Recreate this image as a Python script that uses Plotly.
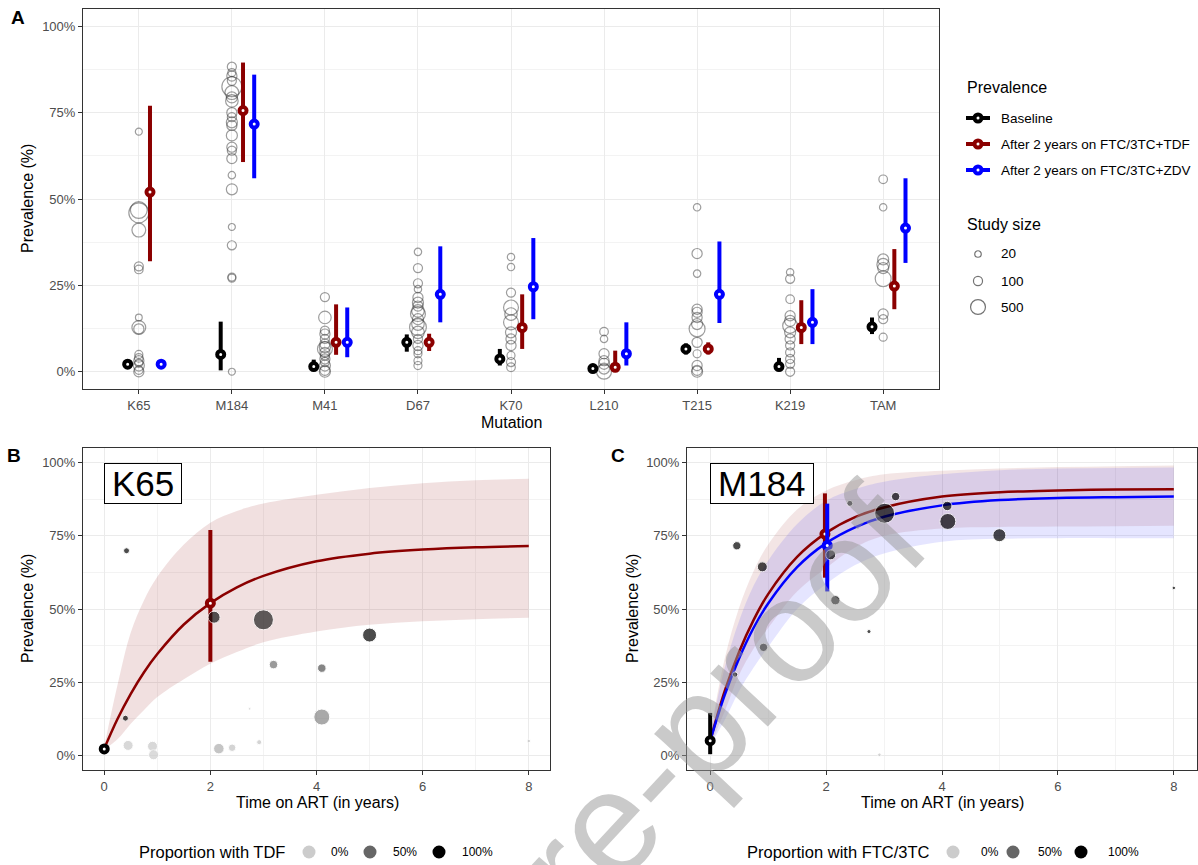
import numpy as np
import plotly.graph_objects as go

W, H = 1198, 865
FONT = "Liberation Sans, Arial, sans-serif"

# ---------------- DATA ----------------
mutations = ["K65", "M184", "M41", "D67", "K70", "L210", "T215", "K219", "TAM"]

# Panel A: individual study prevalences (%) and study sizes
k65_prev = [69.5, 46.8, 46.0, 41.0, 30.5, 29.6, 15.7, 12.8, 12.4, 5.0, 4.0, 3.2, 2.5, 1.8, 0.5, 0.0]
k65_n = [30, 700, 1100, 400, 100, 80, 25, 400, 150, 60, 80, 150, 60, 200, 80, 150]
m184_prev = [88.3, 86.6, 85.6, 84.2, 82.5, 80.8, 79.4, 78.4, 75.0, 73.7, 72.2, 71.3, 68.4, 65.0, 64.0,
             61.7, 56.9, 52.8, 41.9, 36.6, 27.4, 27.1, 0.0]
m184_n = [100, 60, 150, 100, 1100, 400, 200, 300, 150, 100, 200, 150, 200, 150, 100,
          150, 40, 200, 30, 100, 60, 60, 30]
m41_prev = [21.6, 15.7, 11.9, 10.9, 9.5, 8.0, 7.1, 6.6, 5.6, 4.7, 3.7, 2.8, 1.8, 0.4, 0.0]
m41_n = [100, 300, 100, 150, 100, 150, 200, 500, 150, 100, 150, 100, 200, 150, 200]
d67_prev = [34.7, 30.0, 25.6, 23.9, 21.5, 20.0, 19.0, 17.6, 16.7, 15.2, 13.8, 12.9, 11.4, 9.5, 7.6,
            6.1, 5.2, 3.2, 1.8]
d67_n = [40, 100, 100, 40, 150, 200, 150, 300, 500, 200, 300, 700, 300, 100, 150, 60, 60, 60, 60]
k70_prev = [33.2, 30.3, 22.9, 18.6, 16.7, 14.3, 11.4, 9.5, 7.6, 4.7, 2.8, 1.3]
k70_n = [40, 40, 100, 500, 300, 500, 200, 150, 150, 60, 100, 80]
l210_prev = [11.6, 9.5, 5.2, 3.2, 2.3, 0.9, 0.0]
l210_n = [80, 40, 150, 150, 200, 200, 500]
t215_prev = [47.6, 34.2, 28.4, 18.1, 17.2, 15.7, 13.8, 12.4, 8.5, 5.2, 1.8, 0.4, 0.0]
t215_n = [40, 150, 40, 150, 150, 150, 200, 600, 150, 60, 150, 150, 200]
k219_prev = [28.8, 26.9, 21.0, 16.2, 14.7, 13.3, 11.4, 9.5, 7.6, 5.6, 3.7, 2.3, 0.0]
k219_n = [40, 100, 80, 150, 200, 500, 200, 150, 100, 100, 100, 100, 100]
tam_prev = [55.7, 47.6, 32.5, 31.0, 30.0, 26.9, 16.7, 15.2, 10.0]
tam_n = [80, 40, 200, 300, 200, 600, 150, 100, 60]

# Pooled prevalence estimates (%) with 95% CI
base_est = [2.2, 5.0, 1.5, 8.5, 3.7, 0.9, 6.6, 1.5, 13.0]
base_lo = [0.8, 0.4, 0.2, 5.8, 1.8, 0.2, 5.0, 0.5, 10.9]
base_hi = [3.5, 14.5, 3.5, 10.8, 6.6, 1.8, 8.2, 4.0, 15.7]
tdf_est = [52.0, 75.6, 8.5, 8.5, 12.8, 1.3, 6.6, 12.8, 24.8]
tdf_lo = [32.0, 60.7, 4.9, 6.0, 6.6, 0.0, 5.0, 8.0, 18.1]
tdf_hi = [77.0, 89.5, 19.5, 11.0, 22.4, 6.1, 8.5, 20.7, 35.5]
zdv_est = [2.2, 71.7, 8.5, 22.4, 24.6, 5.2, 22.4, 14.3, 41.6]
zdv_lo = [1.2, 56.0, 4.2, 14.3, 15.2, 1.8, 14.1, 8.0, 31.5]
zdv_hi = [3.3, 86.0, 18.6, 36.3, 38.7, 14.3, 37.7, 23.9, 56.0]

# Panels B/C: model curves over time on ART (years)
time_grid = [0, 0.25, 0.5, 0.75, 1, 1.5, 2, 2.5, 3, 4, 5, 6, 7, 8]
k65_fit = [2.3, 12.4, 21.0, 28.4, 34.6, 44.7, 52.0, 57.4, 61.3, 66.3, 68.9, 70.3, 71.1, 71.5]
k65_fit_lo = [2.0, 5.5, 10.8, 15.5, 19.9, 26.0, 31.3, 35.3, 38.6, 42.3, 44.6, 45.8, 46.5, 47.0]
k65_fit_hi = [3.0, 24.0, 42.0, 53.0, 61.0, 72.0, 79.5, 83.5, 86.0, 89.0, 91.3, 93.0, 94.0, 94.5]

m184_fit_tdf = [5.0, 21.9, 35.4, 46.3, 55.1, 67.8, 76.0, 81.4, 84.7, 88.4, 89.9, 90.5, 90.8, 90.9]
m184_lo_tdf = [3.5, 15.0, 27.5, 36.5, 43.5, 56.0, 64.0, 71.0, 75.0, 77.5, 78.0, 78.2, 78.3, 78.4]
m184_hi_tdf = [7.0, 33.0, 50.5, 63.0, 72.0, 84.0, 90.5, 94.0, 96.0, 97.2, 98.0, 98.5, 98.8, 99.0]
m184_fit_zdv = [5.0, 20.6, 33.2, 43.6, 51.9, 64.3, 72.5, 77.9, 81.5, 85.4, 87.2, 87.9, 88.2, 88.4]
m184_lo_zdv = [3.5, 12.0, 22.0, 30.0, 37.0, 50.0, 58.5, 65.0, 69.0, 73.0, 74.0, 74.2, 74.2, 74.2]
m184_hi_zdv = [7.0, 30.0, 46.0, 58.0, 66.5, 79.0, 87.0, 91.0, 93.5, 96.0, 97.4, 98.0, 98.2, 98.3]

# Panel B: K65 studies
k65_time = [0.42, 2.07, 3.0, 5.0, 3.19, 4.1, 4.1, 0.4, 2.74, 0.45, 0.91, 0.93, 2.16, 2.41, 2.92, 8.0]
k65_y = [69.9, 47.2, 46.3, 41.1, 31.0, 29.8, 13.1, 12.7, 15.9, 3.4, 3.1, 0.2, 2.3, 2.6, 4.5, 4.9]
k65_size = [44, 178, 494, 242, 89, 89, 316, 44, 8, 123, 123, 123, 136, 69, 31, 15]
k65_tdf = [1.0, 0.92, 0.85, 1.0, 0.45, 0.6, 0.35, 1.0, 0.0, 0.02, 0.02, 0.0, 0.15, 0.05, 0.05, 0.05]

# Panel C: M184 studies
m184_time = [0.46, 0.9, 0.92, 0.43, 2.08, 2.16, 2.41, 3.2, 3.01, 4.09, 4.1, 4.99, 2.74, 2.92, 8.0]
m184_y = [71.6, 64.4, 36.9, 27.6, 68.5, 53.0, 86.1, 88.4, 82.7, 85.2, 79.9, 75.2, 42.3, 0.2, 57.2]
m184_size = [85, 123, 85, 35, 123, 107, 44, 87, 494, 111, 316, 209, 20, 15, 15]
m184_ftc = [1.0, 1.0, 1.0, 1.0, 1.0, 1.0, 1.0, 1.0, 1.0, 1.0, 1.0, 1.0, 1.0, 0.05, 1.0]

legend_sizes = [20, 100, 500]
prop_levels = [0.0, 0.5, 1.0]
prop_labels = ["0%", "50%", "100%"]

# ---------------- STYLE ----------------
C_BASE, C_TDF, C_ZDV = "#000000", "#8B0000", "#0000FF"
GRAYSCALE = [[0, "#cccccc"], [0.5, "#666666"], [1, "#000000"]]
study_prev = [k65_prev, m184_prev, m41_prev, d67_prev, k70_prev, l210_prev, t215_prev, k219_prev, tam_prev]
study_n = [k65_n, m184_n, m41_n, d67_n, k70_n, l210_n, t215_n, k219_n, tam_n]
OPEN_COL = "rgba(55,55,55,0.7)"


def open_diam(n):
    return 4.4 + 0.47 * np.sqrt(np.asarray(n, dtype=float))


def fill_diam(n):
    return np.maximum(0.9 * np.sqrt(np.asarray(n, dtype=float)), 2.5)


def px(x):
    return x / W


def py(y):
    return 1 - y / H


fig = go.Figure()

# ---- Panel A ----
xs, ys, ss = [], [], []
for i, (p, n) in enumerate(zip(study_prev, study_n)):
    xs += [i + 1] * len(p)
    ys += p
    ss += list(open_diam(n))
fig.add_trace(go.Scatter(x=xs, y=ys, mode="markers", xaxis="x", yaxis="y",
                         marker=dict(symbol="circle-open", size=ss, color=OPEN_COL, line=dict(width=1.2)),
                         showlegend=False, hoverinfo="skip"))


def est_trace(xv, est, lo, hi, color, xa, ya):
    est = np.asarray(est, float)
    return go.Scatter(x=xv, y=est, mode="markers", xaxis=xa, yaxis=ya,
                      marker=dict(symbol="circle", size=7, color="white", line=dict(color=color, width=4)),
                      error_y=dict(type="data", symmetric=False,
                                   array=np.asarray(hi, float) - est,
                                   arrayminus=est - np.asarray(lo, float),
                                   color=color, thickness=4, width=0),
                      showlegend=False, hoverinfo="skip")


idx = np.arange(1, len(mutations) + 1)
fig.add_trace(est_trace(idx - 0.12, base_est, base_lo, base_hi, C_BASE, "x", "y"))
fig.add_trace(est_trace(idx + 0.12, tdf_est, tdf_lo, tdf_hi, C_TDF, "x", "y"))
fig.add_trace(est_trace(idx + 0.24, zdv_est, zdv_lo, zdv_hi, C_ZDV, "x", "y"))


def ribbon(t, lo, hi, fillcolor, xa, ya):
    return [go.Scatter(x=t, y=hi, mode="lines", line=dict(width=0, shape="spline"), xaxis=xa, yaxis=ya,
                       showlegend=False, hoverinfo="skip"),
            go.Scatter(x=t, y=lo, mode="lines", line=dict(width=0, shape="spline"), fill="tonexty",
                       fillcolor=fillcolor, xaxis=xa, yaxis=ya, showlegend=False, hoverinfo="skip")]


def curve(t, y, color, xa, ya):
    return go.Scatter(x=t, y=y, mode="lines", line=dict(color=color, width=2.5, shape="spline"),
                      xaxis=xa, yaxis=ya, showlegend=False, hoverinfo="skip")


def study_points(t, y, n, prop, xa, ya):
    return go.Scatter(x=t, y=y, mode="markers", xaxis=xa, yaxis=ya,
                      marker=dict(size=fill_diam(n), color=prop, colorscale=GRAYSCALE, cmin=0, cmax=1,
                                  line=dict(color="white", width=1)),
                      showlegend=False, hoverinfo="skip")


# ---- Panel B ----
for tr in ribbon(time_grid, k65_fit_lo, k65_fit_hi, "rgba(139,0,0,0.12)", "x2", "y2"):
    fig.add_trace(tr)
fig.add_trace(curve(time_grid, k65_fit, C_TDF, "x2", "y2"))
fig.add_trace(est_trace([0], [base_est[0]], [base_lo[0]], [base_hi[0]], C_BASE, "x2", "y2"))
fig.add_trace(est_trace([2], [tdf_est[0]], [tdf_lo[0]], [tdf_hi[0]], C_TDF, "x2", "y2"))
fig.add_trace(study_points(k65_time, k65_y, k65_size, k65_tdf, "x2", "y2"))

# ---- Panel C ----
for tr in ribbon(time_grid, m184_lo_tdf, m184_hi_tdf, "rgba(139,0,0,0.10)", "x3", "y3"):
    fig.add_trace(tr)
for tr in ribbon(time_grid, m184_lo_zdv, m184_hi_zdv, "rgba(0,0,255,0.10)", "x3", "y3"):
    fig.add_trace(tr)
fig.add_trace(curve(time_grid, m184_fit_tdf, C_TDF, "x3", "y3"))
fig.add_trace(curve(time_grid, m184_fit_zdv, C_ZDV, "x3", "y3"))
fig.add_trace(est_trace([0], [base_est[1]], [base_lo[1]], [base_hi[1]], C_BASE, "x3", "y3"))
fig.add_trace(est_trace([1.98], [tdf_est[1]], [tdf_lo[1]], [tdf_hi[1]], C_TDF, "x3", "y3"))
fig.add_trace(est_trace([2.02], [zdv_est[1]], [zdv_lo[1]], [zdv_hi[1]], C_ZDV, "x3", "y3"))
fig.add_trace(study_points(m184_time, m184_y, m184_size, m184_ftc, "x3", "y3"))

# ---------------- AXES ----------------
axis_common = dict(showline=True, linecolor="#333333", linewidth=1, mirror=True, ticks="outside",
                   ticklen=4, tickcolor="#333333", gridcolor="#EBEBEB", gridwidth=1, zeroline=False,
                   tickfont=dict(family=FONT, size=13, color="#4D4D4D"))
yticks = dict(tickvals=[0, 25, 50, 75, 100], ticktext=["0%", "25%", "50%", "75%", "100%"],
              range=[-5, 105], minor=dict(tick0=0, dtick=12.5, showgrid=True, gridcolor="#F3F3F3", ticks=""))
tticks = dict(tickvals=[0, 2, 4, 6, 8], range=[-0.4, 8.4],
              minor=dict(tick0=0, dtick=1, showgrid=True, gridcolor="#F3F3F3", ticks=""))

fig.update_layout(
    width=W, height=H, margin=dict(l=0, r=0, t=0, b=0),
    paper_bgcolor="white", plot_bgcolor="rgba(0,0,0,0)",
    font=dict(family=FONT, color="black"),
    xaxis=dict(domain=[px(83), px(939)], anchor="y", range=[0.4, 9.6],
               tickvals=list(idx), ticktext=mutations, **axis_common),
    yaxis=dict(domain=[py(389), py(9)], anchor="x", **yticks, **axis_common),
    xaxis2=dict(domain=[px(83), px(550)], anchor="y2", **tticks, **axis_common),
    yaxis2=dict(domain=[py(770), py(448)], anchor="x2", **yticks, **axis_common),
    xaxis3=dict(domain=[px(687), px(1197)], anchor="y3", **tticks, **axis_common),
    yaxis3=dict(domain=[py(770), py(448)], anchor="x3", **yticks, **axis_common),
    showlegend=False,
)

# ---------------- TEXT ----------------
ann = []


def text(x, y, s, size, anchor="left", color="black", angle=0, bold=False):
    ann.append(dict(x=px(x), y=py(y), xref="paper", yref="paper", text=f"<b>{s}</b>" if bold else s,
                    showarrow=False, xanchor=anchor, yanchor="middle", textangle=angle,
                    font=dict(family=FONT, size=size, color=color)))


text(18, 18, "A", 19, "center", bold=True)
text(14, 455, "B", 19, "center", bold=True)
text(618, 455, "C", 19, "center", bold=True)
text(27, 199, "Prevalence (%)", 16, "center", angle=-90)
text(511, 423, "Mutation", 16, "center")
text(27, 609, "Prevalence (%)", 16, "center", angle=-90)
text(317, 802, "Time on ART (in years)", 16, "center")
text(632, 609, "Prevalence (%)", 16, "center", angle=-90)
text(942, 802, "Time on ART (in years)", 16, "center")

for xr, yr, lab in [("x2", "y2", "K65"), ("x3", "y3", "M184")]:
    ann.append(dict(x=0, y=100, xref=xr, yref=yr, text="\u2009" + lab + "\u2009", showarrow=False,
                    xanchor="left", yanchor="top",
                    bordercolor="black", borderwidth=1, borderpad=0, bgcolor="white",
                    font=dict(family=FONT, size=35, color="black")))

# Legend panel A
shapes = []
text(965, 88, "Prevalence", 16)
for yy, lab, col in [(118, "Baseline", C_BASE), (144, "After 2 years on FTC/3TC+TDF", C_TDF),
                     (170, "After 2 years on FTC/3TC+ZDV", C_ZDV)]:
    shapes.append(dict(type="line", xref="paper", yref="paper", x0=px(966), x1=px(990), y0=py(yy), y1=py(yy),
                       line=dict(color=col, width=4)))
    shapes.append(dict(type="circle", xref="paper", yref="paper", x0=px(978 - 3.5), x1=px(978 + 3.5),
                       y0=py(yy + 3.5), y1=py(yy - 3.5), fillcolor="white", line=dict(color=col, width=4)))
    text(999, yy, lab, 13.5)
text(965, 225, "Study size", 16)
for yy, n in zip([254, 281, 307], legend_sizes):
    r = open_diam(n) / 2
    shapes.append(dict(type="circle", xref="paper", yref="paper", x0=px(978 - r), x1=px(978 + r),
                       y0=py(yy + r), y1=py(yy - r), line=dict(color=OPEN_COL, width=1.2)))
    text(999, yy, str(n), 13.5)


# Bottom legends
def gray_of(p):
    lo = np.array([204, 204, 204]) if p <= 0.5 else np.array([102, 102, 102])
    hi = np.array([102, 102, 102]) if p <= 0.5 else np.array([0, 0, 0])
    f = p / 0.5 if p <= 0.5 else (p - 0.5) / 0.5
    c = lo + (hi - lo) * f
    return "rgb(%d,%d,%d)" % tuple(c)


for title, tx, cxs, lxs in [("Proportion with TDF", 137, [309, 370, 439], [329, 391, 460]),
                            ("Proportion with FTC/3TC", 745, [953, 1013, 1081], [979, 1036, 1106])]:
    text(tx, 852, title, 16.5)
    for cx, lx, p, lab in zip(cxs, lxs, prop_levels, prop_labels):
        shapes.append(dict(type="circle", xref="paper", yref="paper", x0=px(cx - 6.5), x1=px(cx + 6.5),
                           y0=py(852 + 6.5), y1=py(852 - 6.5), fillcolor=gray_of(p), line=dict(width=0)))
        text(lx, 852, lab, 12)

# Watermark
ann.append(dict(x=px(507), y=py(930), xref="paper", yref="paper", text="Journal Pre-proof", showarrow=False,
                xanchor="center", yanchor="middle", textangle=-47,
                font=dict(family=FONT, size=148, color="rgba(150,150,150,0.5)")))

fig.update_layout(annotations=ann, shapes=shapes)
fig.write_html("out.html", config={"displayModeBar": False},
               post_script="document.body.style.margin='0';document.body.style.overflow='hidden';")
